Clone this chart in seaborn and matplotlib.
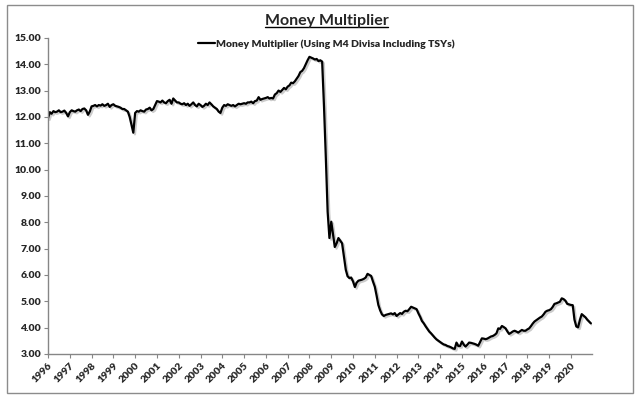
import pandas as pd
import seaborn as sns
import matplotlib.pyplot as plt
import matplotlib.dates as mdates
import matplotlib.patheffects as pe
from matplotlib.lines import Line2D
from matplotlib.patches import Rectangle

TITLE = 'Money Multiplier'
SERIES = 'Money Multiplier (Using M4 Divisa Including TSYs)'

# monthly values, Jan 1996 .. Dec 2020
multiplier = [
    11.95, 12.18, 12.12, 12.22, 12.18, 12.20, 12.25, 12.18, 12.20, 12.24, 12.15, 12.02,  # 1996
    12.18, 12.25, 12.22, 12.20, 12.25, 12.28, 12.22, 12.30, 12.32, 12.25, 12.08, 12.20,  # 1997
    12.40, 12.42, 12.45, 12.40, 12.45, 12.43, 12.48, 12.42, 12.45, 12.50, 12.38, 12.45,  # 1998
    12.48, 12.42, 12.40, 12.38, 12.35, 12.30, 12.30, 12.25, 12.20, 12.00, 11.70, 11.40,  # 1999
    12.15, 12.22, 12.20, 12.25, 12.22, 12.20, 12.28, 12.30, 12.35, 12.25, 12.30, 12.45,  # 2000
    12.60, 12.58, 12.55, 12.62, 12.55, 12.52, 12.60, 12.65, 12.50, 12.70, 12.62, 12.55,  # 2001
    12.55, 12.50, 12.48, 12.52, 12.45, 12.50, 12.42, 12.48, 12.55, 12.45, 12.40, 12.50,  # 2002
    12.45, 12.38, 12.42, 12.50, 12.45, 12.55, 12.48, 12.40, 12.35, 12.30, 12.20, 12.15,  # 2003
    12.35, 12.45, 12.42, 12.48, 12.45, 12.42, 12.45, 12.40, 12.45, 12.50, 12.48, 12.50,  # 2004
    12.52, 12.50, 12.55, 12.55, 12.58, 12.52, 12.60, 12.62, 12.75, 12.65, 12.68, 12.70,  # 2005
    12.72, 12.75, 12.70, 12.72, 12.70, 12.85, 12.90, 13.00, 12.95, 13.02, 13.10, 13.05,  # 2006
    13.15, 13.20, 13.30, 13.28, 13.35, 13.45, 13.55, 13.70, 13.75, 13.85, 14.00, 14.15,  # 2007
    14.28, 14.25, 14.22, 14.18, 14.20, 14.12, 14.15, 14.10, 12.40, 10.50, 8.40, 7.40,    # 2008
    8.02, 7.50, 7.06, 7.20, 7.40, 7.30, 7.20, 6.70, 6.20, 5.95, 5.88, 5.90,             # 2009
    5.75, 5.54, 5.70, 5.78, 5.80, 5.82, 5.85, 5.90, 6.04, 6.00, 5.96, 5.75,             # 2010
    5.55, 5.20, 4.86, 4.65, 4.50, 4.44, 4.48, 4.50, 4.52, 4.54, 4.50, 4.55,             # 2011
    4.44, 4.50, 4.55, 4.52, 4.60, 4.64, 4.62, 4.70, 4.79, 4.76, 4.73, 4.70,             # 2012
    4.54, 4.40, 4.25, 4.16, 4.05, 3.95, 3.85, 3.78, 3.70, 3.62, 3.55, 3.50,             # 2013
    3.45, 3.40, 3.36, 3.34, 3.30, 3.28, 3.25, 3.21, 3.19, 3.43, 3.30, 3.30,             # 2014
    3.47, 3.35, 3.28, 3.35, 3.43, 3.42, 3.40, 3.38, 3.35, 3.31, 3.45, 3.59,             # 2015
    3.58, 3.56, 3.58, 3.62, 3.66, 3.68, 3.72, 3.78, 3.97, 3.95, 4.06, 4.02,             # 2016
    3.97, 3.85, 3.76, 3.80, 3.85, 3.88, 3.85, 3.81, 3.86, 3.91, 3.88, 3.88,             # 2017
    3.93, 3.97, 4.05, 4.15, 4.23, 4.28, 4.33, 4.38, 4.42, 4.50, 4.60, 4.64,             # 2018
    4.66, 4.70, 4.78, 4.90, 4.92, 4.95, 4.98, 5.11, 5.08, 5.02, 4.90, 4.88,             # 2019
    4.86, 4.85, 4.30, 4.04, 4.01, 4.30, 4.51, 4.45, 4.39, 4.30, 4.23, 4.16,             # 2020
]
dates = pd.date_range('1996-01-01', periods=len(multiplier), freq='MS')

y_ticks = [3, 4, 5, 6, 7, 8, 9, 10, 11, 12, 13, 14, 15]

df = pd.DataFrame({'date': dates, 'value': multiplier})

sns.set_style('white')
plt.rcParams['font.family'] = ['Lato', 'DejaVu Sans']

fig = plt.figure(figsize=(6.4, 3.99), dpi=100)
ax = fig.add_axes([0.075, 0.113, 0.85, 0.792])

sns.lineplot(data=df, x='date', y='value', ax=ax, color='black', linewidth=1.6,
             label=SERIES, legend=False)
ax.lines[0].set_path_effects([pe.SimpleLineShadow(offset=(1.2, -1.2), alpha=0.2),
                              pe.Normal()])

ax.set_xlim(pd.Timestamp('1996-01-01'), pd.Timestamp('2020-12-20'))
ax.set_ylim(3, 15)
ax.set_yticks(y_ticks)
ax.set_yticklabels([f'{v:.2f}' for v in y_ticks], fontsize=7.5, fontweight='heavy')
ax.xaxis.set_major_locator(mdates.YearLocator())
ax.xaxis.set_major_formatter(mdates.DateFormatter('%Y'))
for lbl in ax.get_xticklabels():
    lbl.set_rotation(45)
    lbl.set_ha('right')
    lbl.set_va('top')
    lbl.set_rotation_mode('anchor')
    lbl.set_fontsize(7.5)
    lbl.set_fontweight('heavy')
ax.set_xlabel('')
ax.set_ylabel('')

for side in ['top', 'right']:
    ax.spines[side].set_visible(False)
for side in ['left', 'bottom']:
    ax.spines[side].set_color('#868686')
    ax.spines[side].set_linewidth(1)
ax.tick_params(axis='both', direction='out', length=3, width=0.8, color='#868686',
               pad=2, left=True, bottom=True)

leg = fig.legend(handles=[Line2D([], [], color='black', linewidth=1.6)], labels=[SERIES],
                 loc='center', bbox_to_anchor=(0.51, 0.889), frameon=False,
                 handlelength=1.6, handletextpad=0.1, fontsize=7.5)
for t in leg.get_texts():
    t.set_fontweight('heavy')

title = fig.text(0.51, 0.948, TITLE, ha='center', va='center', fontsize=11.5, fontweight='bold')

# underline the title
fig.canvas.draw()
bb = title.get_window_extent().transformed(fig.transFigure.inverted())
fig.add_artist(Line2D([bb.x0, bb.x1], [bb.y0 + 0.002, bb.y0 + 0.002], color='black',
                      linewidth=1, transform=fig.transFigure))

# chart border
fig.add_artist(Rectangle((0.011, 0.015), 0.978, 0.972, transform=fig.transFigure,
                         fill=False, edgecolor='#8c8c8c', linewidth=1))

fig.savefig('out.png', dpi=100)
